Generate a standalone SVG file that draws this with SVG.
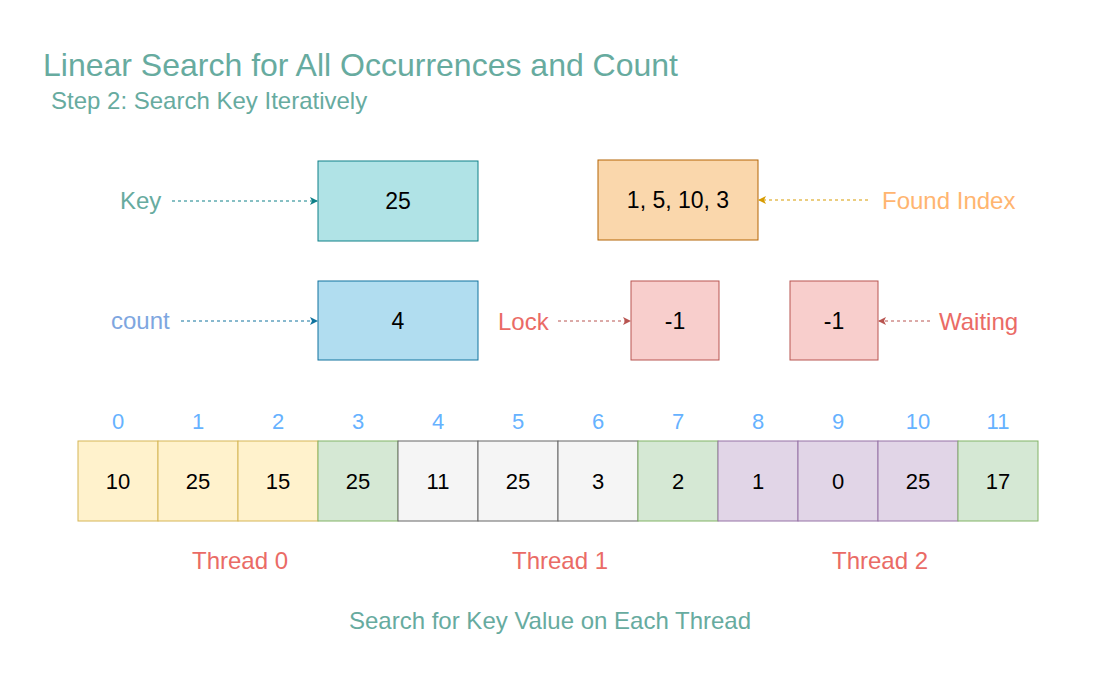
<svg xmlns="http://www.w3.org/2000/svg" width="1100" height="700" viewBox="0 0 1100 700">
<style>
text{font-family:"Liberation Sans",Arial,Helvetica,sans-serif;}
.v{font-size:23px;fill:#000;text-anchor:middle;dominant-baseline:central;}
.cv{font-size:22px;fill:#000;text-anchor:middle;dominant-baseline:central;}
.idx{font-size:22px;fill:#66B2FF;text-anchor:middle;dominant-baseline:central;}
.lbl{font-size:24px;dominant-baseline:central;}
.thr{font-size:24px;fill:#EA6B66;text-anchor:middle;dominant-baseline:central;}
.y{fill:#FFF2CC;stroke:#D6B656;}
.g{fill:#D5E8D4;stroke:#82B366;}
.gr{fill:#F5F5F5;stroke:#666666;}
.p{fill:#E1D5E7;stroke:#9673A6;}
.c{fill:none;stroke-dasharray:3 3;stroke-width:1;}
</style>
<defs>
<marker id="aTeal" markerWidth="8" markerHeight="8" refX="7" refY="4" orient="auto" markerUnits="userSpaceOnUse"><path d="M0,0 L8,4 L0,8 L2,4 Z" fill="#0E8088"/></marker>
<marker id="aBlue" markerWidth="8" markerHeight="8" refX="7" refY="4" orient="auto" markerUnits="userSpaceOnUse"><path d="M0,0 L8,4 L0,8 L2,4 Z" fill="#10739E"/></marker>
<marker id="aRed" markerWidth="8" markerHeight="8" refX="7" refY="4" orient="auto" markerUnits="userSpaceOnUse"><path d="M0,0 L8,4 L0,8 L2,4 Z" fill="#B85450"/></marker>
<marker id="aOr" markerWidth="8" markerHeight="8" refX="7" refY="4" orient="auto" markerUnits="userSpaceOnUse"><path d="M0,0 L8,4 L0,8 L2,4 Z" fill="#D79B00"/></marker>
</defs>
<rect width="1100" height="700" fill="#fff"/>
<g id="title">
<text x="43" y="76" font-size="32" fill="#67AB9F">Linear Search for All Occurrences and Count</text>
<text x="51" y="109" font-size="24" fill="#67AB9F">Step 2: Search Key Iteratively</text>
</g>
<g id="key"><rect x="318" y="161" width="160" height="80" fill="#B0E3E6" stroke="#0E8088"/><text class="v" x="398" y="201">25</text></g>
<g id="found"><rect x="598" y="160" width="160" height="80" fill="#FAD7AC" stroke="#B46504"/><text class="v" x="678" y="200">1, 5, 10, 3</text></g>
<g id="count"><rect x="318" y="281" width="160" height="79" fill="#B1DDF0" stroke="#10739E"/><text class="v" x="398" y="321">4</text></g>
<g id="lock"><rect x="631" y="281" width="88" height="79" fill="#F8CECC" stroke="#B85450"/><text class="v" x="675" y="321">-1</text></g>
<g id="waiting"><rect x="790" y="281" width="88" height="79" fill="#F8CECC" stroke="#B85450"/><text class="v" x="834" y="321">-1</text></g>
<g id="labels">
<text class="lbl" x="120" y="200" fill="#67AB9F">Key</text>
<text class="lbl" x="111" y="320" fill="#7EA6E0">count</text>
<text class="lbl" x="882" y="200" fill="#FFB570">Found Index</text>
<text class="lbl" x="498" y="321" fill="#EA6B66">Lock</text>
<text class="lbl" x="939" y="321" fill="#EA6B66">Waiting</text>
</g>
<g id="connectors">
<line class="c" x1="172" y1="201" x2="317" y2="201" stroke="#0E8088" marker-end="url(#aTeal)"/>
<line class="c" x1="181" y1="321" x2="317" y2="321" stroke="#10739E" marker-end="url(#aBlue)"/>
<line class="c" x1="558" y1="321" x2="630" y2="321" stroke="#B85450" marker-end="url(#aRed)"/>
<line class="c" x1="930" y1="321" x2="879" y2="321" stroke="#B85450" marker-end="url(#aRed)"/>
<line class="c" x1="868" y1="200" x2="759" y2="200" stroke="#D79B00" marker-end="url(#aOr)"/>
</g>
<g id="array">
<rect class="y" x="78" y="441" width="80" height="80"/>
<rect class="y" x="158" y="441" width="80" height="80"/>
<rect class="y" x="238" y="441" width="80" height="80"/>
<rect class="g" x="318" y="441" width="80" height="80"/>
<rect class="gr" x="398" y="441" width="80" height="80"/>
<rect class="gr" x="478" y="441" width="80" height="80"/>
<rect class="gr" x="558" y="441" width="80" height="80"/>
<rect class="g" x="638" y="441" width="80" height="80"/>
<rect class="p" x="718" y="441" width="80" height="80"/>
<rect class="p" x="798" y="441" width="80" height="80"/>
<rect class="p" x="878" y="441" width="80" height="80"/>
<rect class="g" x="958" y="441" width="80" height="80"/>
<text class="cv" x="118" y="481">10</text>
<text class="cv" x="198" y="481">25</text>
<text class="cv" x="278" y="481">15</text>
<text class="cv" x="358" y="481">25</text>
<text class="cv" x="438" y="481" fill="#333">11</text>
<text class="cv" x="518" y="481" fill="#333">25</text>
<text class="cv" x="598" y="481" fill="#333">3</text>
<text class="cv" x="678" y="481">2</text>
<text class="cv" x="758" y="481">1</text>
<text class="cv" x="838" y="481">0</text>
<text class="cv" x="918" y="481">25</text>
<text class="cv" x="998" y="481">17</text>
</g>
<g id="indices">
<text class="idx" x="118" y="421">0</text>
<text class="idx" x="198" y="421">1</text>
<text class="idx" x="278" y="421">2</text>
<text class="idx" x="358" y="421">3</text>
<text class="idx" x="438" y="421">4</text>
<text class="idx" x="518" y="421">5</text>
<text class="idx" x="598" y="421">6</text>
<text class="idx" x="678" y="421">7</text>
<text class="idx" x="758" y="421">8</text>
<text class="idx" x="838" y="421">9</text>
<text class="idx" x="918" y="421">10</text>
<text class="idx" x="998" y="421">11</text>
</g>
<g id="threads">
<text class="thr" x="240" y="560">Thread 0</text>
<text class="thr" x="560" y="560">Thread 1</text>
<text class="thr" x="880" y="560">Thread 2</text>
</g>
<g id="caption"><text x="550" y="620" font-size="24" fill="#67AB9F" text-anchor="middle" dominant-baseline="central">Search for Key Value on Each Thread</text></g>
</svg>
